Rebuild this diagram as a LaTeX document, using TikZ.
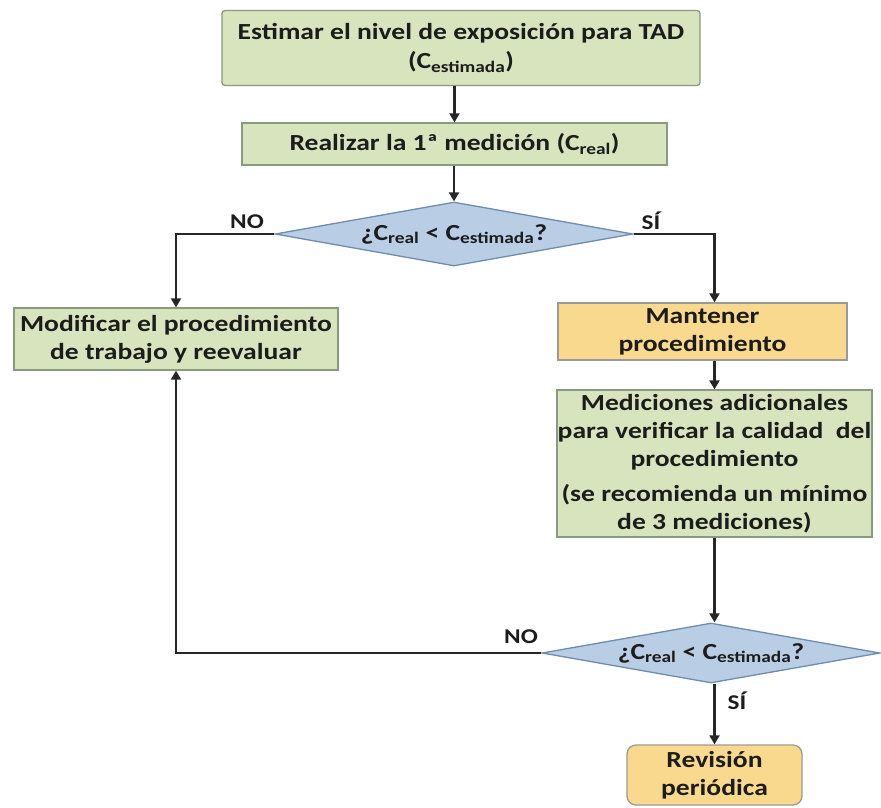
\documentclass[tikz,border=0pt]{standalone}
\usepackage{fontspec}
\setmainfont{Carlito}[FakeStretch=1.2]
\usetikzlibrary{shapes.geometric,arrows.meta}
\definecolor{gfill}{HTML}{D7E4BD}
\definecolor{gdraw}{HTML}{8A9A80}
\definecolor{bfill}{HTML}{B9CDE5}
\definecolor{bdraw}{HTML}{6F8CAE}
\definecolor{yfill}{HTML}{F9D98D}
\definecolor{ydraw}{HTML}{9A9A9A}
\definecolor{txt}{HTML}{1C1C1C}
\begin{document}
\begin{tikzpicture}[x=1pt,y=-1pt,
  every node/.style={font=\fontsize{23}{28}\selectfont\bfseries, text=txt, align=center, inner sep=0pt},
  gbox/.style={draw=gdraw, fill=gfill, line width=1.3pt},
  ybox/.style={draw=ydraw, fill=yfill, line width=1.3pt},
  dbox/.style={diamond, draw=bdraw, fill=bfill, line width=1.3pt, aspect=5.6},
  arr/.style={line width=2.1pt, draw=black!85, -{Triangle[width=10pt,length=9pt]}},
  lab/.style={font=\fontsize{21}{24}\selectfont\bfseries}
]
\useasboundingbox (0,0) rectangle (881,807);
\node[gbox, rounded corners=3pt, minimum width=478pt, minimum height=75pt] (top) at (461,48)
  {Estimar el nivel de exposición para TAD\\[1pt](C\textsubscript{estimada})};
\node[gbox, minimum width=425pt, minimum height=42pt] (r1) at (454.5,144)
  {Realizar la 1ª medición (C\textsubscript{real})};
\node[dbox, minimum width=358pt, minimum height=64pt] (d1) at (454,234)
  {¿C\textsubscript{real} < C\textsubscript{estimada}?};
\node[gbox, minimum width=324pt, minimum height=62pt] (mod) at (176,339)
  {Modificar el procedimiento\\de trabajo y reevaluar};
\node[ybox, minimum width=289pt, minimum height=57pt] (mant) at (702.5,331.5)
  {Mantener\\procedimiento};
\node[gbox, minimum width=315pt, minimum height=147pt] (med) at (714.5,463.5)
  {Mediciones adicionales\\para verificar la calidad\ \ del\\procedimiento\\[7pt](se recomienda un mínimo\\de 3 mediciones)};
\node[dbox, minimum width=338pt, minimum height=60pt] (d2) at (711,653)
  {¿C\textsubscript{real} < C\textsubscript{estimada}?};
\node[ybox, rounded corners=9pt, minimum width=175pt, minimum height=60pt] (rev) at (714.5,775)
  {Revisión\\periódica};

\draw[arr] (top.south -| r1.north) -- (r1.north);
\draw[arr] (r1.south -| d1.north) -- (d1.north);
\draw[arr] (d1.west) -| (mod.north);
\draw[arr] (d1.east) -| (mant.north -| med.north);
\draw[arr] (mant.south -| med.north) -- (med.north);
\draw[arr] (med.south) -- (med.south |- d2.north);
\draw[arr] (d2.west) -| (mod.south);
\draw[arr] (d2.south -| rev.north) -- (rev.north);

\node[lab] (no1) at (247,222) {NO};
\node[lab] (si1) at (651,221) {SÍ};
\node[lab] (no2) at (521,637) {NO};
\node[lab] (si2) at (737,701) {SÍ};
\end{tikzpicture}
\end{document}
